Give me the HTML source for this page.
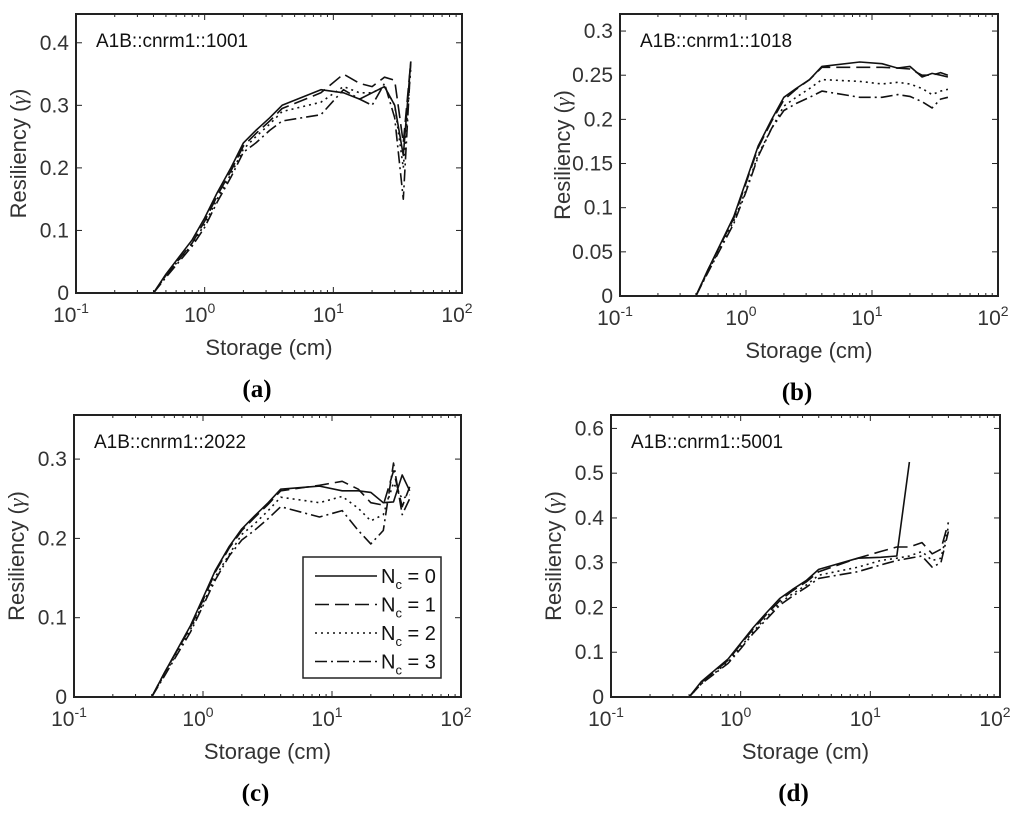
<!DOCTYPE html>
<html><head><meta charset="utf-8">
<style>
html,body{margin:0;padding:0;background:#fff;}
svg{display:block;font-family:"Liberation Sans",Arial,sans-serif;}
</style></head>
<body>
<svg id="fig" width="1024" height="816" viewBox="0 0 1024 816"></svg>
<script>
const xs = [0.4,0.5,0.8,1,1.25,1.6,2,2.5,3.2,4,8,12,16,20,25,30,35,40];
const seriesNames = ["Nc = 0","Nc = 1","Nc = 2","Nc = 3"];
const aTitle = "A1B::cnrm1::1001";
const a0 = [0,0.03,0.085,0.12,0.16,0.2,0.24,0.26,0.28,0.30,0.325,0.32,0.31,0.32,0.33,0.30,0.22,0.37];
const a1 = [0,0.028,0.08,0.115,0.155,0.195,0.235,0.255,0.275,0.295,0.32,0.35,0.335,0.33,0.345,0.34,0.24,0.37];
const a2 = [0,0.028,0.078,0.11,0.15,0.19,0.23,0.25,0.27,0.29,0.305,0.33,0.32,0.32,0.33,0.30,0.20,0.36];
const a3 = [0,0.025,0.075,0.105,0.145,0.185,0.225,0.24,0.26,0.275,0.285,0.325,0.31,0.30,0.335,0.28,0.15,0.37];
const aTicks = [0,0.1,0.2,0.3,0.4];
const bTitle = "A1B::cnrm1::1018";
const b0 = [0,0.03,0.09,0.13,0.17,0.2,0.225,0.235,0.245,0.26,0.265,0.263,0.258,0.26,0.248,0.252,0.25,0.248];
const b1 = [0,0.03,0.088,0.128,0.168,0.198,0.222,0.234,0.245,0.259,0.259,0.259,0.258,0.257,0.25,0.25,0.253,0.25];
const b2 = [0,0.028,0.085,0.12,0.16,0.19,0.215,0.225,0.235,0.245,0.243,0.24,0.242,0.24,0.235,0.228,0.232,0.234];
const b3 = [0,0.027,0.082,0.118,0.158,0.19,0.21,0.218,0.225,0.232,0.225,0.225,0.228,0.226,0.22,0.213,0.223,0.225];
const bTicks = [0,0.05,0.1,0.15,0.2,0.25,0.3];
const cTitle = "A1B::cnrm1::2022";
const c0 = [0,0.03,0.09,0.125,0.16,0.19,0.212,0.228,0.245,0.262,0.266,0.26,0.26,0.258,0.245,0.246,0.28,0.26];
const c1 = [0,0.03,0.088,0.122,0.158,0.188,0.21,0.226,0.243,0.26,0.267,0.272,0.262,0.245,0.242,0.285,0.24,0.265];
const c2 = [0,0.028,0.085,0.118,0.152,0.18,0.205,0.218,0.235,0.252,0.245,0.253,0.238,0.222,0.23,0.27,0.25,0.255];
const c3 = [0,0.026,0.082,0.115,0.148,0.178,0.198,0.21,0.225,0.24,0.227,0.235,0.21,0.193,0.21,0.295,0.23,0.25];
const cTicks = [0,0.1,0.2,0.3];
const dTitle = "A1B::cnrm1::5001";
const d0 = [0,0.035,0.085,0.12,0.155,0.19,0.22,0.24,0.26,0.285,0.31,0.312,0.315,0.525,null,null,null,null];
const d1 = [0,0.033,0.082,0.118,0.152,0.186,0.215,0.237,0.257,0.28,0.31,0.325,0.335,0.335,0.345,0.32,0.33,0.39];
const d2 = [0,0.03,0.078,0.112,0.146,0.18,0.21,0.23,0.25,0.272,0.29,0.305,0.31,0.315,0.325,0.305,0.31,0.38];
const d3 = [0,0.03,0.075,0.108,0.142,0.175,0.205,0.225,0.245,0.265,0.28,0.295,0.305,0.31,0.315,0.29,0.3,0.37];
const dTicks = [0,0.1,0.2,0.3,0.4,0.5,0.6];

const NS = "http://www.w3.org/2000/svg";
const svg = document.getElementById("fig");
const dashes = ["", "14,6", "2,4", "12,4,2,4"];
function mk(tag, attrs, parent){
  const e = document.createElementNS(NS, tag);
  for (const k in attrs) e.setAttribute(k, attrs[k]);
  (parent||svg).appendChild(e);
  return e;
}
function panel(id, L, R, T, B, ymax, ticks, title, series, letter){
  const g = mk("g", {});
  
  
  const xScale = v => L + (Math.log10(v) + 1) / 3 * (R - L);
  const yScale = v => B - v / ymax * (B - T);
  for (let d = -1; d <= 1; d++) {
    for (let m = 1; m <= 9; m++) {
      const v = m * Math.pow(10, d);
      const x = xScale(v);
      const len = m === 1 ? 6 : 3;
      mk("line", {x1:x, x2:x, y1:B, y2:B-len, stroke:"#222", "stroke-width":1}, g);
      mk("line", {x1:x, x2:x, y1:T, y2:T+len, stroke:"#222", "stroke-width":1}, g);
    }
  }
  [-1,0,1,2].forEach(d => {
    const t = mk("text", {x:xScale(Math.pow(10,d)) - 5, y:B+29, "font-size":21, fill:"#333", "text-anchor":"middle"}, g);
    
    
    t.textContent = "10";
    const s = mk("tspan", {dy:-9, "font-size":14}, t);
    s.textContent = String(d);
  });
  ticks.forEach(v => {
    const y = yScale(v);
    mk("line", {x1:L, x2:L+6, y1:y, y2:y, stroke:"#222", "stroke-width":1}, g);
    mk("line", {x1:R, x2:R-6, y1:y, y2:y, stroke:"#222", "stroke-width":1}, g);
    const t = mk("text", {x:L-7, y:y+7, "font-size":21, fill:"#333", "text-anchor":"end"}, g);
    
    
    t.textContent = String(v);
  });
  series.forEach((arr, i) => {
    let d = "";
    arr.forEach((v, j) => { if (v !== null) d += (d ? "L" : "M") + xScale(xs[j]).toFixed(1) + "," + yScale(v).toFixed(1); });
    const p = mk("path", {d:d, fill:"none", stroke:"#111", "stroke-width":1.6, "stroke-dasharray":dashes[i], "stroke-linejoin":"round"}, g);
    
    
  });
  const box = mk("rect", {x:L, y:T, width:R-L, height:B-T, fill:"none", stroke:"#222", "stroke-width":2}, g);
  
  
  const tt = mk("text", {x:L+20, y:T+33, "font-size":19, fill:"#111"}, g);
  
  
  tt.textContent = title;
  const xl = mk("text", {x:(L+R)/2, y:B+62, "font-size":22, fill:"#333", "text-anchor":"middle"}, g);
  
  
  xl.textContent = "Storage (cm)";
  const cy = (T+B)/2;
  const yl = mk("text", {x:L-50, y:cy, "font-size":22, fill:"#333", "text-anchor":"middle", transform:`rotate(-90 ${L-50} ${cy})`}, g);
  
  
  yl.textContent = "Resiliency (";
  const gm = mk("tspan", {"font-style":"italic", "font-family":"Liberation Serif,serif"}, yl);
  gm.textContent = "γ";
  const cl = mk("tspan", {}, yl);
  cl.textContent = ")";
  const lt = mk("text", {x:(L+R)/2 - 12, y:B+104, "font-size":25, "font-weight":"bold", "font-family":"Liberation Serif,serif", fill:"#000", "text-anchor":"middle"}, g);
  
  
  lt.textContent = "(" + letter + ")";
  return g;
}
panel("a", 76, 462, 14, 293, 0.446, aTicks, aTitle, [a0,a1,a2,a3], "a");
panel("b", 620, 998, 14, 296, 0.3193, bTicks, bTitle, [b0,b1,b2,b3], "b");
const gc = panel("c", 74, 461, 415, 697, 0.3556, cTicks, cTitle, [c0,c1,c2,c3], "c");
panel("d", 611, 1000, 415, 697, 0.630, dTicks, dTitle, [d0,d1,d2,d3], "d");
const lg = mk("g", {}, gc);


mk("rect", {x:303, y:557, width:138, height:121, fill:"#fff", stroke:"#222", "stroke-width":1.5}, lg);
seriesNames.forEach((n, i) => {
  const y = 576 + i * 28.5;
  const e = mk("g", {}, lg);
  
  
  mk("line", {x1:315, x2:377, y1:y, y2:y, stroke:"#111", "stroke-width":1.6, "stroke-dasharray":dashes[i]}, e);
  const t = mk("text", {x:381, y:y+7, "font-size":20, fill:"#111"}, e);
  t.textContent = "N";
  const s = mk("tspan", {dy:6, "font-size":13}, t);
  s.textContent = "c";
  const r = mk("tspan", {dy:-6}, t);
  r.textContent = " = " + i;
});
</script>
</body></html>
